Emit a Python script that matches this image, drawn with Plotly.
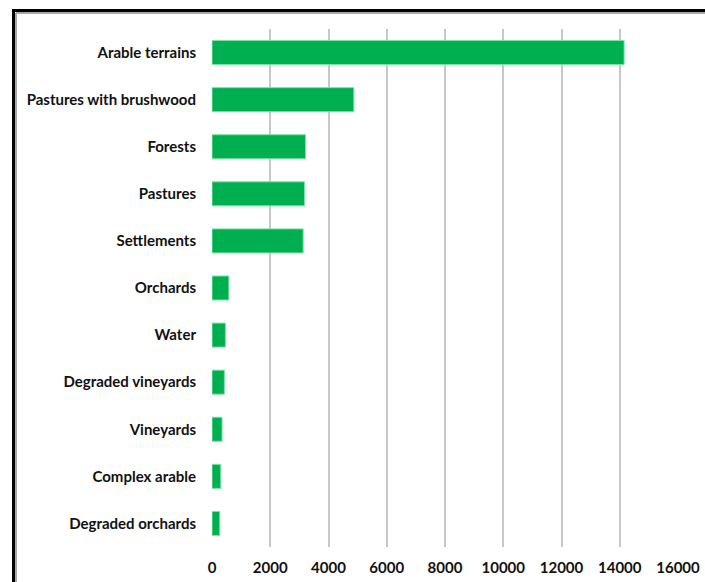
import plotly.graph_objects as go

# Land use categories (top to bottom) and their areas
categories = [
    "Arable terrains",
    "Pastures with brushwood",
    "Forests",
    "Pastures",
    "Settlements",
    "Orchards",
    "Water",
    "Degraded vineyards",
    "Vineyards",
    "Complex arable",
    "Degraded orchards",
]
areas = [14150, 4870, 3210, 3180, 3130, 580, 460, 425, 345, 300, 265]
x_ticks = [0, 2000, 4000, 6000, 8000, 10000, 12000, 14000, 16000]

W, H = 705, 582
ML, MR, MT, MB = 212, 27, 29, 35
PW, PH = W - ML - MR, H - MT - MB


def px_x(p):
    return (p - ML) / PW


def px_y(p):
    return 1 - (p - MT) / PH


fig = go.Figure(
    go.Bar(
        x=areas,
        y=categories,
        orientation="h",
        marker=dict(color="#00B050", line=dict(color="#7FE0A5", width=1)),
        width=0.51,
    )
)

fig.update_layout(
    width=W,
    height=H,
    margin=dict(l=ML, r=MR, t=MT, b=MB, autoexpand=False),
    paper_bgcolor="white",
    plot_bgcolor="white",
    showlegend=False,
    xaxis=dict(
        range=[0, 16000],
        tickvals=x_ticks,
        ticktext=[str(v) for v in x_ticks],
        showgrid=True,
        gridcolor="#C8C8C8",
        gridwidth=1.5,
        zeroline=False,
        showline=False,
        ticks="",
        automargin=False,
        ticklabelstandoff=10,
        tickfont=dict(family="Lato, sans-serif", size=15, color="#111111", weight="bold"),
    ),
    yaxis=dict(
        categoryorder="array",
        categoryarray=categories[::-1],
        range=[-0.5, len(categories) - 0.5],
        showgrid=False,
        zeroline=False,
        showline=False,
        ticks="",
        automargin=False,
        ticklabelstandoff=15,
        tickfont=dict(family="Lato, sans-serif", size=15, color="#111111", weight="bold"),
    ),
)

# Outer chart frame: heavy black edge with a grey inner shadow
fig.add_shape(type="rect", xref="paper", yref="paper",
              x0=px_x(13.5), x1=px_x(760), y0=px_y(10.5), y1=px_y(640),
              line=dict(color="black", width=3), layer="above")
fig.add_shape(type="line", xref="paper", yref="paper",
              x0=px_x(16), x1=px_x(760), y0=px_y(13), y1=px_y(13),
              line=dict(color="#A8A8A8", width=2), layer="above")
fig.add_shape(type="line", xref="paper", yref="paper",
              x0=px_x(16), x1=px_x(16), y0=px_y(13), y1=px_y(640),
              line=dict(color="#A8A8A8", width=2), layer="above")

fig.write_html("out.html")
